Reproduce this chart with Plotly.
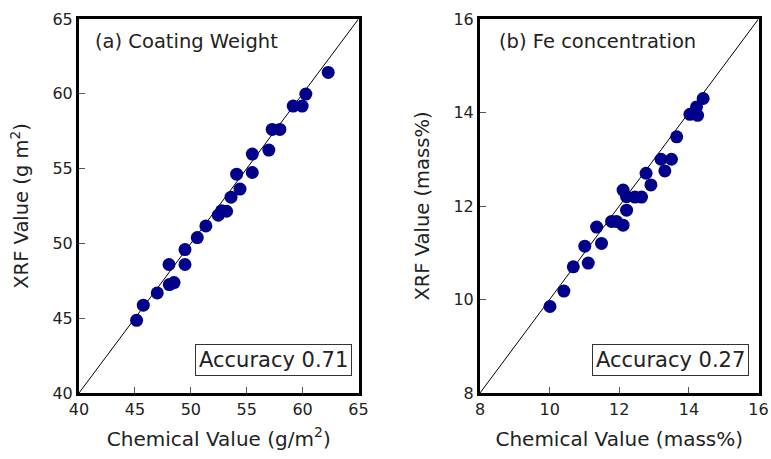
import plotly.graph_objects as go

# Panel (a) Coating Weight
coat_chem = [45.15, 45.75, 47.0, 48.05, 48.08, 48.5, 49.48, 49.48, 50.58, 51.35,
             52.46, 52.75, 53.2, 53.6, 54.1, 54.4, 55.5, 55.5, 56.98, 57.28,
             57.97, 59.16, 59.96, 60.29, 62.29]
coat_xrf = [44.86, 45.87, 46.69, 48.59, 47.25, 47.38, 49.59, 48.59, 50.39, 51.17,
            51.89, 52.18, 52.15, 53.09, 54.63, 53.63, 54.74, 55.97, 56.24, 57.62,
            57.62, 59.18, 59.18, 59.98, 61.43]

# Panel (b) Fe concentration
fe_chem = [10.01, 10.41, 10.68, 11.01, 11.11, 11.35, 11.49, 11.78, 11.92, 12.11,
           12.11, 12.21, 12.21, 12.45, 12.64, 12.77, 12.91, 13.2, 13.31, 13.5,
           13.65, 14.03, 14.22, 14.25, 14.41]
fe_xrf = [9.85, 10.18, 10.70, 11.14, 10.78, 11.55, 11.20, 11.67, 11.67, 11.59,
          12.34, 12.20, 11.91, 12.19, 12.19, 12.70, 12.45, 13.0, 12.75, 13.0,
          13.48, 13.96, 14.12, 13.94, 14.30]

range_a = [40, 65]
ticks_a = [40, 45, 50, 55, 60, 65]
range_b = [8, 16]
ticks_b = [8, 10, 12, 14, 16]

FONT = "DejaVu Sans"
MARK = "#00008b"

W, H = 771, 459

fig = go.Figure()

# identity lines
fig.add_trace(go.Scatter(x=range_a, y=range_a, mode="lines",
                         line=dict(color="black", width=1), xaxis="x", yaxis="y",
                         showlegend=False, hoverinfo="skip"))
fig.add_trace(go.Scatter(x=range_b, y=range_b, mode="lines",
                         line=dict(color="black", width=1), xaxis="x2", yaxis="y2",
                         showlegend=False, hoverinfo="skip"))
fig.add_trace(go.Scatter(x=coat_chem, y=coat_xrf, mode="markers",
                         marker=dict(color=MARK, size=13), xaxis="x", yaxis="y",
                         showlegend=False))
fig.add_trace(go.Scatter(x=fe_chem, y=fe_xrf, mode="markers",
                         marker=dict(color=MARK, size=13), xaxis="x2", yaxis="y2",
                         showlegend=False))

ax_common = dict(showline=True, linewidth=3, linecolor="black", mirror=True,
                 ticks="inside", ticklen=6, tickwidth=1, tickcolor="#555",
                 showgrid=False, zeroline=False, automargin=False,
                 tickfont=dict(family=FONT, size=16, color="#222"),
                 ticklabelstandoff=0)

def xd(a, b):
    return [a / W, b / W]

ydom = [1 - 393 / H, 1 - 19 / H]

fig.update_layout(
    width=W, height=H,
    margin=dict(l=0, r=0, t=0, b=0),
    paper_bgcolor="white", plot_bgcolor="white",
    font=dict(family=FONT, color="#222"),
    xaxis=dict(domain=xd(79, 358.5), range=range_a, tickvals=ticks_a,
               anchor="y",
               title=dict(text="Chemical Value (g/m<sup>2</sup>)",
                          font=dict(family=FONT, size=20), standoff=14),
               **ax_common),
    yaxis=dict(domain=ydom, range=range_a, tickvals=ticks_a, anchor="x",
               title=dict(text="XRF Value (g m<sup>2</sup>)",
                          font=dict(family=FONT, size=19.5), standoff=19),
               **ax_common),
    xaxis2=dict(domain=xd(480, 758.5), range=range_b, tickvals=ticks_b,
                anchor="y2",
                title=dict(text="Chemical Value (mass%)",
                           font=dict(family=FONT, size=20), standoff=14),
                **ax_common),
    yaxis2=dict(domain=ydom, range=range_b, tickvals=ticks_b, anchor="x2",
                title=dict(text="XRF Value (mass%)",
                           font=dict(family=FONT, size=19.5), standoff=19),
                **ax_common),
)

# panel labels
fig.add_annotation(x=0.05, y=0.975, xref="x domain", yref="y domain",
                   text="(a) Coating Weight", showarrow=False,
                   xanchor="left", yanchor="top",
                   font=dict(family=FONT, size=19.5, color="#222"))
fig.add_annotation(x=0.06, y=0.975, xref="x2 domain", yref="y2 domain",
                   text="(b) Fe concentration", showarrow=False,
                   xanchor="left", yanchor="top",
                   font=dict(family=FONT, size=19.5, color="#222"))

# accuracy boxes
fig.add_annotation(x=0.976, y=0.045, xref="x domain", yref="y domain",
                   text="Accuracy 0.71", showarrow=False,
                   xanchor="right", yanchor="bottom",
                   bordercolor="#333", borderwidth=1, borderpad=3, bgcolor="white",
                   font=dict(family=FONT, size=21, color="#222"))
fig.add_annotation(x=0.966, y=0.045, xref="x2 domain", yref="y2 domain",
                   text="Accuracy 0.27", showarrow=False,
                   xanchor="right", yanchor="bottom",
                   bordercolor="#333", borderwidth=1, borderpad=3, bgcolor="white",
                   font=dict(family=FONT, size=21, color="#222"))

fig.write_html(
    "out.html",
    config={"displayModeBar": False},
    post_script="document.documentElement.style.margin='0';"
                "document.body.style.margin='0';"
                "document.body.style.overflow='hidden';",
)
